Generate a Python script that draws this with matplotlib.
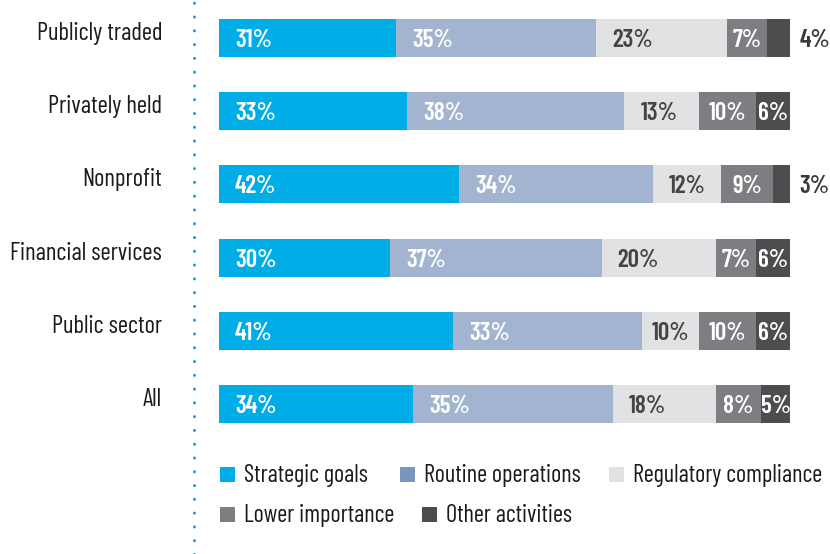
import matplotlib
matplotlib.use("Agg")
import matplotlib.pyplot as plt
from matplotlib.patches import Rectangle
from matplotlib.lines import Line2D
from matplotlib.transforms import ScaledTranslation

categories = ["Publicly traded", "Privately held", "Nonprofit",
              "Financial services", "Public sector", "All"]
series_names = ["Strategic goals", "Routine operations", "Regulatory compliance",
                "Lower importance", "Other activities"]
strategic = [31, 33, 42, 30, 41, 34]
routine = [35, 38, 34, 37, 33, 35]
regulatory = [23, 13, 12, 20, 10, 18]
lower = [7, 10, 9, 7, 10, 8]
other = [4, 6, 3, 6, 6, 5]
series = [strategic, routine, regulatory, lower, other]

bar_colors = ["#00ade6", "#a3b4d0", "#e1e2e4", "#7d7e82", "#4d4d4f"]
legend_colors = ["#00ade6", "#7b96bd", "#e1e2e4", "#7d7e82", "#4d4d4f"]
text_colors = ["white", "white", "#444446", "white", "white"]
DARK = "#3a3a3c"

plt.rcParams['font.family'] = ['Barlow Condensed', 'DejaVu Sans']

W, H = 830, 554
fig = plt.figure(figsize=(W / 100, H / 100), dpi=100)
ax_left, ax_right = 219 / W, 790 / W
ax_top_px, ax_bot_px = 1.4, 440.6
ax = fig.add_axes([ax_left, 1 - ax_bot_px / H, ax_right - ax_left, (ax_bot_px - ax_top_px) / H])
ax.set_xlim(0, 100)
ax.set_ylim(len(categories) - 0.5, -0.5)

LBL = 18
ypos = list(range(len(categories)))
left = [0] * len(categories)
for si, vals in enumerate(series):
    ax.barh(ypos, vals, left=left, height=0.52, color=bar_colors[si], linewidth=0)
    for i, v in enumerate(vals):
        start = left[i]
        lab = f"{v}%"
        kw = dict(va="center_baseline", fontsize=LBL, fontweight="semibold")
        if v < 5:
            ax.text(100 + 1.7, i, lab, ha="left", color=DARK, clip_on=False, **kw)
        elif v < 12:
            ax.text(start + v / 2, i, lab, ha="center", color=text_colors[si], **kw)
        else:
            ax.text(start + 2.8, i, lab, ha="left", color=text_colors[si], **kw)
    left = [l + v for l, v in zip(left, vals)]

ax.set_yticks(ypos)
ax.set_yticklabels(categories, fontsize=17.8, color="#1a1a1a")
ax.tick_params(axis="y", length=0, pad=41)
shift = ScaledTranslation(0, 7 / 100, fig.dpi_scale_trans)
for lab in ax.get_yticklabels():
    lab.set_transform(lab.get_transform() + shift)
ax.set_xticks([])
for s in ax.spines.values():
    s.set_visible(False)

# dotted vertical separator
fig.add_artist(Line2D([194 / W, 194 / W], [0, 1], transform=fig.transFigure,
                      color="#1a9fd6", linewidth=2.2, linestyle=(0, (0.01, 4.5)),
                      dash_capstyle="round"))

# legend (manual)
legend_items = [(0, 220, 474), (1, 400, 474), (2, 609, 474), (3, 220, 514), (4, 422, 514)]
sw = 15
for idx, xp, yp in legend_items:
    fig.add_artist(Rectangle((xp / W, 1 - (yp + sw / 2) / H), sw / W, sw / H,
                             transform=fig.transFigure, color=legend_colors[idx], linewidth=0))
    fig.text((xp + 24) / W, 1 - (yp + 8) / H, series_names[idx], ha="left", va="baseline",
             fontsize=17.5, color="#1a1a1a")

fig.savefig("out.png", dpi=100)
